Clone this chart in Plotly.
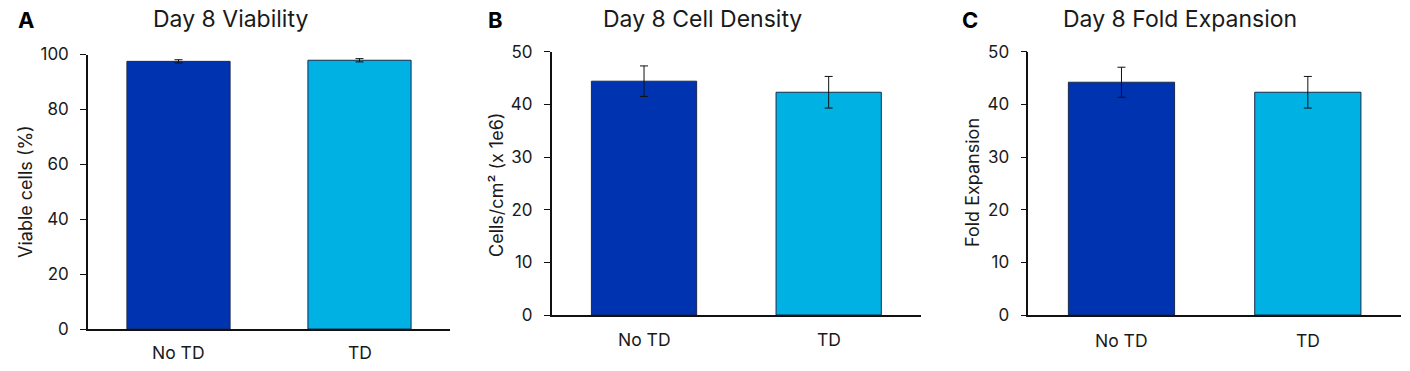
import plotly.graph_objects as go

categories = ["No TD", "TD"]
viability = [97.5, 97.9]
viability_err = [0.6, 0.6]
density = [44.4, 42.3]
density_err = [2.9, 3.0]
fold = [44.2, 42.3]
fold_err = [2.85, 3.0]

titles = ["Day 8 Viability", "Day 8 Cell Density", "Day 8 Fold Expansion"]
letters = ["A", "B", "C"]
ytitles = ["Viable cells (%)", "Cells/cm² (x 1e6)", "Fold Expansion"]
yranges = [[0, 100], [0, 50], [0, 50]]
ydticks = [20, 10, 10]

colors = ["#0033B0", "#00B2E3"]
W, H = 1410, 371
FONT = "Inter"
TXT = "#1a1a1a"

# pixel geometry of each panel: (x0, x1, ybottom, ytop)
panels = [(88, 450, 329, 54.5), (551.7, 921, 315, 51.7), (1028.3, 1401, 315, 51.7)]
title_x = [230, 702, 1180]
letter_x = [26, 495, 970]
ytitle_x = [25, 497, 972]
ytitle_y = [192, 185, 183]
xtick_y = [352, 339, 340]

fig = go.Figure()
series = [(viability, viability_err), (density, density_err), (fold, fold_err)]

for i, (vals, errs) in enumerate(series):
    n = "" if i == 0 else str(i + 1)
    fig.add_trace(go.Bar(
        x=categories, y=vals,
        marker=dict(color=colors, line=dict(color="#1a2a4a", width=1)),
        width=0.57,
        error_y=dict(type="data", array=errs, color="#111111", thickness=1, width=4),
        xaxis="x" + n, yaxis="y" + n, showlegend=False,
    ))
    x0, x1, yb, yt = panels[i]
    fig.layout["xaxis" + n] = dict(
        domain=[x0 / W, x1 / W], anchor="y" + n, range=[-0.5, 1.5],
        showline=True, linecolor="#111111", linewidth=1.5, ticks="",
        showticklabels=False, showgrid=False, zeroline=False, fixedrange=True,
        automargin=False,
    )
    fig.layout["yaxis" + n] = dict(
        domain=[1 - yb / H, 1 - yt / H], anchor="x" + n, range=yranges[i],
        dtick=ydticks[i], tick0=0,
        showline=True, linecolor="#111111", linewidth=1.5,
        ticks="outside", ticklen=6, tickcolor="#111111", tickwidth=1,
        ticklabelstandoff=8,
        tickfont=dict(family=FONT, size=17, color=TXT),
        showgrid=False, zeroline=False, fixedrange=True, automargin=False,
    )
    for j, c in enumerate(categories):
        cx = x0 + (x1 - x0) * (j + 0.5) / 2
        fig.add_annotation(x=cx / W, y=1 - xtick_y[i] / H, xref="paper", yref="paper",
                           text=c, showarrow=False, xanchor="center", yanchor="middle",
                           font=dict(family=FONT, size=17.5, color=TXT))
    fig.add_annotation(x=title_x[i] / W, y=1 - 19 / H, xref="paper", yref="paper",
                       text=titles[i], showarrow=False, xanchor="center", yanchor="middle",
                       font=dict(family=FONT, size=23, color=TXT))
    fig.add_annotation(x=letter_x[i] / W, y=1 - 20 / H, xref="paper", yref="paper",
                       text="<b>" + letters[i] + "</b>", showarrow=False,
                       xanchor="center", yanchor="middle",
                       font=dict(family=FONT, size=22, color="#000000"))
    fig.add_annotation(x=ytitle_x[i] / W, y=1 - ytitle_y[i] / H, xref="paper", yref="paper",
                       text=ytitles[i], showarrow=False, textangle=-90,
                       xanchor="center", yanchor="middle",
                       font=dict(family=FONT, size=18, color=TXT))

fig.update_layout(
    width=W, height=H, margin=dict(l=0, r=0, t=0, b=0, autoexpand=False),
    paper_bgcolor="white", plot_bgcolor="white",
)
fig.write_html(
    "out.html",
    config={"displayModeBar": False, "responsive": False},
    post_script="document.body.style.margin='0';document.body.style.overflow='hidden';",
)
